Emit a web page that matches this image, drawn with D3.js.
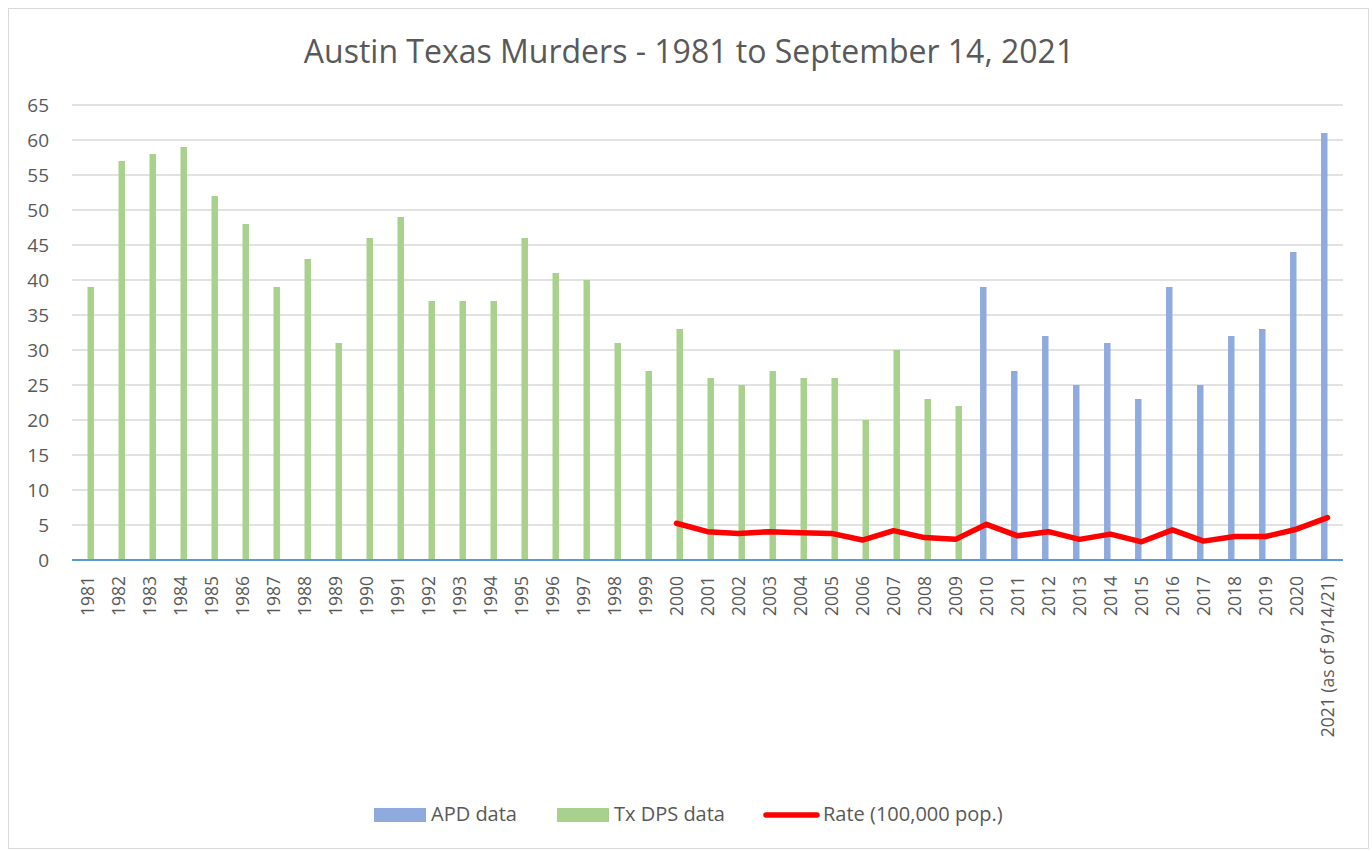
<!DOCTYPE html>
<html lang="en">
<head>
<meta charset="utf-8">
<title>Austin Texas Murders</title>
<style>
  body, html {
    margin: 0;
    background: #fff;
    font-family: "Open Sans", "Liberation Sans", sans-serif;
  }
  svg text { fill: #595959; }
  .grid line { stroke: #d9d9d9; stroke-width: 1.3px; }
</style>
</head>
<body>
<svg></svg>
<script src="https://d3js.org/d3.v7.min.js"></script>
<script>

  // chart values
  let years = ["1981", "1982", "1983", "1984", "1985", "1986", "1987", "1988", "1989", "1990",
    "1991", "1992", "1993", "1994", "1995", "1996", "1997", "1998", "1999", "2000",
    "2001", "2002", "2003", "2004", "2005", "2006", "2007", "2008", "2009", "2010",
    "2011", "2012", "2013", "2014", "2015", "2016", "2017", "2018", "2019", "2020",
    "2021 (as of 9/14/21)"];

  // Tx DPS data 1981 - 2009
  let dpsYears = years.slice(0, 29);
  let dpsValues = [39, 57, 58, 59, 52, 48, 39, 43, 31, 46, 49, 37, 37, 37, 46, 41, 40, 31, 27, 33,
    26, 25, 27, 26, 26, 20, 30, 23, 22];

  // APD data 2010 - 2021
  let apdYears = years.slice(29);
  let apdValues = [39, 27, 32, 25, 31, 23, 39, 25, 32, 33, 44, 61];

  // rate per 100,000 pop, 2000 - 2021
  let rateYears = years.slice(19);
  let rateValues = [5.25, 4.05, 3.8, 4.05, 3.9, 3.8, 2.85, 4.2, 3.2, 2.95, 5.1, 3.45, 4.05, 2.95,
    3.7, 2.6, 4.3, 2.7, 3.35, 3.35, 4.4, 6.05];

  let yTicks = d3.range(0, 66, 5);

  let w = 1372, h = 851;
  let svg = d3.select("svg").attr("width", w).attr("height", h);

  // chart border
  svg.append("rect")
    .attr("x", 8.5).attr("y", 8.5)
    .attr("width", 1360).attr("height", 840)
    .attr("fill", "#fff")
    .attr("stroke", "#d9d9d9");

  let plotLeft = 72, plotRight = 1343, plotTop = 105, plotBottom = 560;

  let x = d3.scaleBand().domain(years).range([plotLeft, plotRight]).padding(0);
  let xSub = d3.scaleBand().domain(["apd", "dps"]).range([0, x.bandwidth()])
    .paddingInner(0).paddingOuter(1.4);
  let y = d3.scaleLinear().domain([0, 65]).range([plotBottom, plotTop]);

  // gridlines
  svg.append("g").attr("class", "grid")
    .selectAll("line")
    .data(yTicks.filter(d => d > 0))
    .enter()
    .append("line")
    .attr("x1", plotLeft).attr("x2", plotRight)
    .attr("y1", d => y(d)).attr("y2", d => y(d));

  // y axis labels
  let yAxis = svg.append("g")
    .attr("transform", `translate(${plotLeft},0)`)
    .call(d3.axisLeft(y).tickValues(yTicks).tickSize(0).tickPadding(23));
  yAxis.select(".domain").remove();
  yAxis.selectAll("text")
    .style("font-size", "19px")
    .style("font-family", "'Open Sans', sans-serif")
    .attr("fill", "#595959");

  // bars
  svg.append("g").selectAll("rect")
    .data(dpsYears.map((d, i) => ({ year: d, value: dpsValues[i] })))
    .enter()
    .append("rect")
    .attr("x", d => x(d.year) + xSub("dps"))
    .attr("y", d => y(d.value))
    .attr("width", xSub.bandwidth())
    .attr("height", d => y(0) - y(d.value))
    .attr("fill", "#a9d18e");

  svg.append("g").selectAll("rect")
    .data(apdYears.map((d, i) => ({ year: d, value: apdValues[i] })))
    .enter()
    .append("rect")
    .attr("x", d => x(d.year) + xSub("apd"))
    .attr("y", d => y(d.value))
    .attr("width", xSub.bandwidth())
    .attr("height", d => y(0) - y(d.value))
    .attr("fill", "#8faadc");

  // baseline
  svg.append("line")
    .attr("x1", plotLeft).attr("x2", plotRight)
    .attr("y1", y(0)).attr("y2", y(0))
    .attr("stroke", "#5b9bd5")
    .attr("stroke-width", 2);

  // rate line
  let line = d3.line()
    .x(d => x(d.year) + x.bandwidth() / 2)
    .y(d => y(d.value));
  svg.append("path")
    .datum(rateYears.map((d, i) => ({ year: d, value: rateValues[i] })))
    .attr("d", line)
    .attr("fill", "none")
    .attr("stroke", "#ff0000")
    .attr("stroke-width", 5.5)
    .attr("stroke-linejoin", "round")
    .attr("stroke-linecap", "round");

  // x axis labels (rotated)
  let xAxis = svg.append("g")
    .attr("transform", `translate(0,${plotBottom})`)
    .call(d3.axisBottom(x).tickSize(0));
  xAxis.select(".domain").remove();
  xAxis.selectAll("text")
    .attr("transform", "rotate(-90)")
    .attr("x", -16)
    .attr("y", 0)
    .attr("dy", "0.35em")
    .attr("text-anchor", "end")
    .style("font-size", "17.5px")
    .style("font-family", "'Open Sans', sans-serif")
    .attr("fill", "#595959");

  // title
  svg.append("text")
    .attr("x", 689).attr("y", 63)
    .attr("text-anchor", "middle")
    .style("font-size", "32px")
    .text("Austin Texas Murders - 1981 to September 14, 2021");

  // legend
  let legendItems = [
    { label: "APD data", kind: "rect", color: "#8faadc", x: 374 },
    { label: "Tx DPS data", kind: "rect", color: "#a9d18e", x: 557 },
    { label: "Rate (100,000 pop.)", kind: "line", color: "#ff0000", x: 763 }
  ];
  let legend = svg.append("g").attr("transform", "translate(0,815)");
  legendItems.forEach(d => {
    if (d.kind == "rect") {
      legend.append("rect")
        .attr("x", d.x).attr("y", -7)
        .attr("width", 52).attr("height", 14)
        .attr("fill", d.color);
    } else {
      legend.append("line")
        .attr("x1", d.x + 3).attr("x2", d.x + 54)
        .attr("y1", 0).attr("y2", 0)
        .attr("stroke", d.color)
        .attr("stroke-width", 5.5)
        .attr("stroke-linecap", "round");
    }
    legend.append("text")
      .attr("x", d.x + (d.kind == "rect" ? 57 : 60))
      .attr("y", 6)
      .style("font-size", "20px")
      .text(d.label);
  });

</script>
</body>
</html>
